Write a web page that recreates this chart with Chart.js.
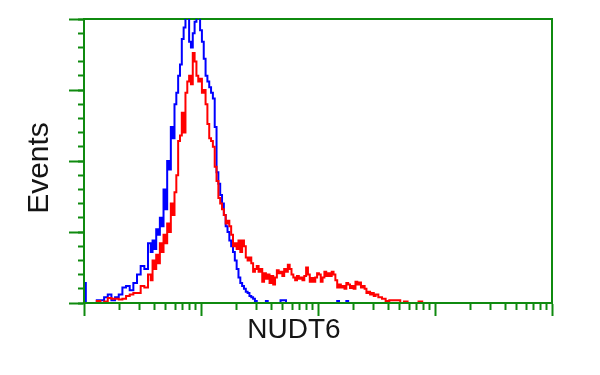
<!DOCTYPE html>
<html>
<head>
<meta charset="utf-8">
<script src="https://cdn.jsdelivr.net/npm/chart.js@4.4.1/dist/chart.umd.min.js"></script>
<style>
  html, body { margin: 0; padding: 0; background: #ffffff; }
  #wrap { width: 600px; height: 375px; }
</style>
</head>
<body>
<div id="wrap"><canvas id="c" width="600" height="375"></canvas></div>
<script>
// Histogram bins (channel index on a 256-channel, 4-decade log scale)
const channels = [0,2,4,6,8,10,12,14,16,18,20,22,24,26,28,30,32,34,
  36,37,38,39,40,41,42,43,44,45,46,47,48,49,50,51,52,53,54,55,56,57,58,59,60,61,62,63,64,65,66,67,68,69,70,71,72,73,74,75,76,77,78,79,80,81,82,83,84,85,86,87,88,89,90,
  91,92,93,94,95,96,97,98,99,100,101,102,103,104,105,106,107,108,109,110,111,112,113,114,115,116,117,118,119,120,121,122,123,124,125,126,127,128,129,130,
  131,132,133,134,135,136,137,138,139,140,141,142,143,144,145,146,147,148,149,150,151,152,153,154,155,156,157,158,159,160,
  162,164,166,168,170,172,174,176,178,180,182,184,186,188,190];

// Blue series (control)
const blueCounts = [7,0,0,0,1,1,2,3,1,2,3,5.5,6,4.5,7,10,13,12,
  21,18,22,19,26,24,30,27,40,33,50,47,62,58,70,74,80,84,93,97,106,104,92,90,95,99,107,104,96,92,86,80,78,76,74,72,62,46,42,38,35,31,27,25,22,20,18,15,12,9,7,6,5,4,3.5,
  2.5,2,1.5,0.7,0,0,0,0,0,0.7,0,0,0,0,0,0,0,1,1,1,0,0,0,0,0,0,0,0,0,0,
  0,0,0,0,0,0,0,0,0,0,0,0,0,0,0,0,0,0,0.7,0,0,0,0,0.7,0,0,0,0,0,0,
  0,0,0,0,0,0,0,0,0,0,
  0,0,0,0,0,0,0,0,0,0,0,0,0,0,0];

// Red series (NUDT6)
const redCounts = [0,0,0,0,0.7,0,0.5,1.8,1.5,1.5,1.2,1.5,2.5,3,3.5,3.5,6,5.5,
  10,8,15,12,17,14,21,18,24,21,28,25,35,31,39,45,57,59,67,60,74,78,80,77,88,85,80,78,79,74,75,70,63,58,57,55,48,43,37,35,33,31,28,29,27,24,20,21,19,22,18,22,20,16,15,
  16,14,11,12,13,11,12,7.5,10.5,8.5,10,7,9.5,6.5,9,11.5,10.5,11,9.5,12,
  11,13.5,12,10,9,8,9.5,8.5,9,8,9.5,12.5,10,7.5,8.8,7.5,9,10.5,10,7.5,
  9,11,9.5,10.5,9.5,11,10,8,5.5,6.5,5.5,6,5,7,6.5,5.3,6,5,7.5,6.5,
  7.2,5.5,6,5,3.5,4,3,3.5,2.5,3,
  2,1.5,0.7,1,1,1,0,0.5,0,0,0,0.5,0,0,0];

// Axis ticks
const decadeTicks = [1, 10, 100, 1000, 10000];
const minorTicks = [2,3,4,5,6,7,8,9,20,30,40,50,60,70,80,90,200,300,400,500,600,700,800,900,2000,3000,4000,5000,6000,7000,8000,9000];
const yMajorStep = 25;
const yMinorStep = 5;
const xTitle = 'NUDT6';
const yTitle = 'Events';

const GREEN = '#0f8a0f';
const FONT = '"Liberation Sans", Arial, sans-serif';

const toPoints = (ys) => channels.map((c, i) => ({ x: c, y: ys[i] }));

new Chart(document.getElementById('c'), {
  type: 'line',
  data: {
    datasets: [
      { label: 'NUDT6', data: toPoints(redCounts), borderColor: '#ff0000', borderWidth: 2,
        pointRadius: 0, stepped: 'middle', fill: false, xAxisID: 'x', yAxisID: 'y' },
      { label: 'Control', data: toPoints(blueCounts), borderColor: '#0000ff', borderWidth: 2,
        pointRadius: 0, stepped: 'middle', fill: false, xAxisID: 'x', yAxisID: 'y' }
    ]
  },
  options: {
    responsive: false,
    animation: false,
    devicePixelRatio: 1,
    layout: { padding: { left: 36, right: 48, top: 0, bottom: 39 } },
    plugins: {
      legend: { display: false },
      tooltip: { enabled: false },
      title: {
        display: true, text: yTitle, position: 'left', color: '#151515',
        font: { family: FONT, size: 30, weight: 'normal', lineHeight: '8px' },
        padding: { top: 0, bottom: 25 }
      },
      subtitle: {
        display: true, text: xTitle, position: 'bottom', color: '#151515',
        font: { family: FONT, size: 28, weight: 'normal', lineHeight: '12px' },
        padding: { top: 8, bottom: 0 }
      }
    },
    scales: {
      x: { type: 'linear', min: 0, max: 256, display: false },
      xDecade: {
        axis: 'x', type: 'logarithmic', position: 'bottom', min: 1, max: 10000,
        afterBuildTicks: (s) => { s.ticks = decadeTicks.map(v => ({ value: v })); },
        ticks: { display: false },
        grid: { drawOnChartArea: false, drawTicks: true, tickLength: 13, tickColor: GREEN, tickWidth: 2 },
        border: { display: true, color: GREEN, width: 2, z: 1 }
      },
      xMinor: {
        axis: 'x', type: 'logarithmic', position: { y: 0 }, min: 1, max: 10000,
        afterBuildTicks: (s) => { s.ticks = minorTicks.map(v => ({ value: v })); },
        ticks: { display: false },
        grid: { drawOnChartArea: false, drawTicks: true, tickLength: 7, tickColor: GREEN, tickWidth: 2 },
        border: { display: false }
      },
      xTop: {
        axis: 'x', type: 'linear', position: 'top', min: 0, max: 1,
        ticks: { display: false, stepSize: 1 },
        grid: { drawOnChartArea: false, drawTicks: true, tickLength: 19, tickColor: 'rgba(0,0,0,0)' },
        border: { display: true, color: GREEN, width: 2 }
      },
      y: {
        type: 'linear', position: 'left', min: 0, max: 100,
        ticks: { display: false, stepSize: yMajorStep },
        grid: { drawOnChartArea: false, drawTicks: true, tickLength: 15, tickColor: GREEN, tickWidth: 2 },
        border: { display: true, color: GREEN, width: 2, z: 1 }
      },
      yMinor: {
        axis: 'y', type: 'linear', position: { x: 0 }, min: 0, max: 100,
        ticks: { display: false, stepSize: yMinorStep },
        grid: { drawOnChartArea: false, drawTicks: true, tickLength: 6, tickColor: GREEN, tickWidth: 2 },
        border: { display: false }
      },
      yRight: {
        axis: 'y', type: 'linear', position: 'right', min: 0, max: 1,
        ticks: { display: false },
        grid: { drawOnChartArea: false, drawTicks: false },
        border: { display: true, color: GREEN, width: 2 }
      }
    }
  }
});
</script>
</body>
</html>
